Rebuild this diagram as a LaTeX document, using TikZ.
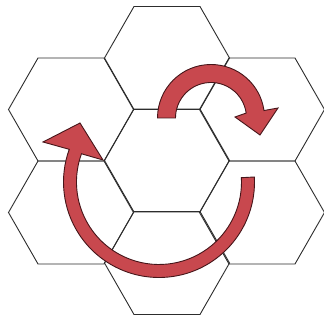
\documentclass[tikz,border=0pt]{standalone}
\usetikzlibrary{calc}
\definecolor{arrowfill}{RGB}{200,72,78}
\definecolor{arrowline}{RGB}{70,22,26}
\definecolor{hexline}{RGB}{45,45,45}
\tikzset{
  hexcell/.style={draw=hexline, line width=0.9pt, line join=miter},
  turnarrow/.style={fill=arrowfill, draw=arrowline, line width=0.9pt, line join=miter}
}
\newcommand{\hexat}[2]{\draw[hexcell, shift={(#1,#2)}] (62.5,0) -- (33,51.5) -- (-33,51.5) -- (-62.5,0) -- (-33,-51.5) -- (33,-51.5) -- cycle;}
\begin{document}
\begin{tikzpicture}[x=1pt,y=1pt]
\useasboundingbox (0,0) rectangle (324,320);
\fill[white] (0,0) rectangle (324,320);
% hexagons
\hexat{167}{159.5}
\hexat{167}{262}
\hexat{167}{57}
\hexat{71}{210.5}
\hexat{71}{107.5}
\hexat{262}{210.5}
\hexat{262}{107.5}
% small arrow (clockwise over the top)
\coordinate (sc) at (211,202);
\draw[turnarrow] ($(sc)+(180:53.5)$) arc[start angle=180, end angle=8, radius=53.5]
  -- (278,212) -- (260,185) -- (235,203)
  -- ($(sc)+(8:35.5)$) arc[start angle=8, end angle=180, radius=35.5] -- cycle;
% large arrow (clockwise round the bottom)
\coordinate (bc) at (159,138);
\draw[turnarrow] ($(bc)+(3:95.5)$) arc[start angle=3, end angle=-200, radius=95.5]
  -- (43,178) -- (80,197) -- (103,160)
  -- ($(bc)+(-200:82.5)$) arc[start angle=-200, end angle=3, radius=82.5] -- cycle;
\end{tikzpicture}
\end{document}
